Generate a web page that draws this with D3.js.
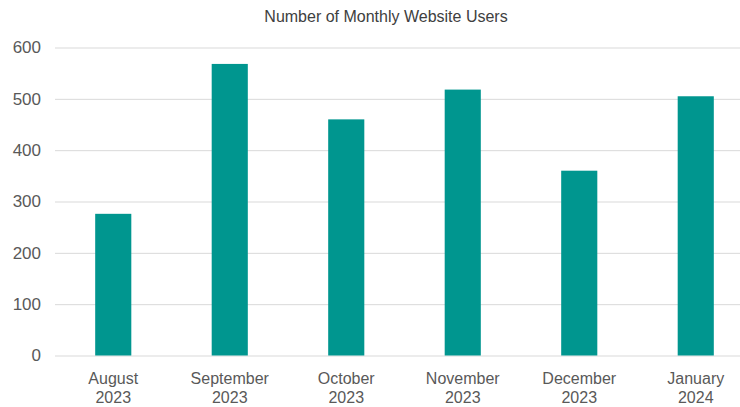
<!DOCTYPE html>
<html>
<head>
<meta charset="utf-8">
<script src="https://cdn.jsdelivr.net/npm/d3@7"></script>
<style>
  body { margin: 0; background: #fff; }
  svg text { font-family: "Liberation Sans Narrow", "Arial Narrow", "Liberation Sans", sans-serif; }
</style>
</head>
<body>
<div id="chart"></div>
<script>
var width = 740;
var height = 407;

// data
var months = ["August", "September", "October", "November", "December", "January"];
var years = ["2023", "2023", "2023", "2023", "2023", "2024"];
var users = [276, 568, 460, 518, 360, 505];
var yTicks = [0, 100, 200, 300, 400, 500, 600];

var barColor = "#00968f";

var svg = d3.select("#chart").append("svg")
    .attr("width", width)
    .attr("height", height);

var x = d3.scaleBand()
    .domain(d3.range(months.length))
    .range([55, 754])
    .paddingInner(0.69)
    .paddingOuter(0.345);

var y = d3.scaleLinear()
    .domain([0, 600])
    .range([355.5, 47.5]);

// title
svg.append("text")
    .attr("x", 386)
    .attr("y", 22)
    .attr("text-anchor", "middle")
    .style("font-size", "16px")
    .style("fill", "#404040")
    .text("Number of Monthly Website Users");

// gridlines + y labels
var yAxis = d3.axisLeft(y)
    .tickValues(yTicks)
    .tickSize(-(width - 55))
    .tickPadding(14);

var gy = svg.append("g")
    .attr("transform", "translate(55,0)")
    .call(yAxis);
gy.select(".domain").remove();
gy.selectAll(".tick line")
    .attr("stroke", "#d9d9d9")
    .attr("stroke-width", 1);
gy.selectAll(".tick text")
    .style("font-size", "17px")
    .style("font-family", "'Liberation Sans', Arial, sans-serif")
    .style("fill", "#595959");

// bars
svg.selectAll(".bar")
    .data(users)
    .enter().append("rect")
    .attr("class", "bar")
    .attr("x", (d, i) => x(i))
    .attr("width", x.bandwidth())
    .attr("y", d => y(d))
    .attr("height", d => y(0) - y(d))
    .attr("fill", barColor);

// x labels (two lines)
var xl = svg.selectAll(".xlabel")
    .data(months)
    .enter().append("text")
    .attr("class", "xlabel")
    .attr("text-anchor", "middle")
    .style("font-size", "16px")
    .style("font-family", "'Liberation Sans', Arial, sans-serif")
    .style("fill", "#595959");
xl.append("tspan")
    .attr("x", (d, i) => x(i) + x.bandwidth() / 2)
    .attr("y", 384)
    .text(d => d);
xl.append("tspan")
    .attr("x", (d, i) => x(i) + x.bandwidth() / 2)
    .attr("y", 403)
    .text((d, i) => years[i]);
</script>
</body>
</html>
